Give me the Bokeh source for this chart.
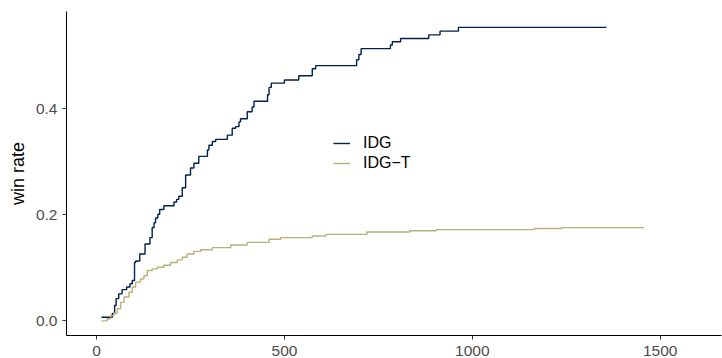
from bokeh.plotting import figure
from bokeh.models import Range1d, FixedTicker, NumeralTickFormatter, Legend, LegendItem
from bokeh.embed import file_html
from bokeh.resources import INLINE

# ---- data ----
idg_x = [13, 42, 48, 52, 59, 68, 80, 89, 95, 101, 104, 115, 129, 142, 148, 153, 157, 163, 168, 179,
         206, 213, 219, 228, 237, 250, 259, 272, 295, 299, 308, 317, 348, 361, 370, 379, 383, 401, 414, 419,
         455, 459, 465, 500, 538, 574, 583, 692, 698, 704, 782, 787, 809, 884, 914, 963, 1357]
idg_y = [0.007, 0.014, 0.029, 0.042, 0.051, 0.059, 0.064, 0.070, 0.076, 0.110, 0.113, 0.126, 0.145, 0.157,
         0.176, 0.185, 0.194, 0.201, 0.210, 0.217, 0.224, 0.229, 0.235, 0.251, 0.275, 0.288, 0.297, 0.310,
         0.322, 0.331, 0.338, 0.342, 0.350, 0.363, 0.366, 0.375, 0.381, 0.394, 0.403, 0.414, 0.426, 0.440,
         0.448, 0.454, 0.462, 0.475, 0.481, 0.492, 0.502, 0.513, 0.520, 0.526, 0.532, 0.539, 0.546, 0.553, 0.553]

idgt_x = [13, 28, 37, 46, 55, 64, 73, 86, 95, 104, 117, 126, 135, 148, 162, 179, 197, 215, 228, 241,
          259, 277, 308, 357, 401, 459, 490, 574, 610, 719, 833, 904, 1164, 1238, 1457]
idgt_y = [0.000, 0.004, 0.010, 0.015, 0.023, 0.035, 0.045, 0.054, 0.064, 0.073, 0.079, 0.085, 0.095, 0.098,
          0.101, 0.105, 0.110, 0.115, 0.120, 0.126, 0.131, 0.134, 0.138, 0.143, 0.148, 0.154, 0.157, 0.160,
          0.163, 0.1675, 0.170, 0.172, 0.174, 0.1757, 0.1757]

series_labels = ["IDG", "IDG\u2212T"]
x_ticks = [0, 500, 1000, 1500]
y_ticks = [0.0, 0.2, 0.4]
y_title = "win rate"

FONT = "Liberation Sans"
C_IDG = "#00204D"
C_IDGT = "#BCAF7A"

p = figure(width=722, height=358, output_backend="svg", toolbar_location=None,
           x_range=Range1d(-80, 1663), y_range=Range1d(-0.0275, 0.583),
           min_border_left=66, min_border_right=1, min_border_top=11, min_border_bottom=21)
p.outline_line_color = None
p.background_fill_color = "white"
p.border_fill_color = "white"
p.grid.visible = False

r1 = p.step(idg_x, idg_y, mode="after", line_color=C_IDG, line_width=1.4)
r2 = p.step(idgt_x, idgt_y, mode="after", line_color=C_IDGT, line_width=1.4)

for ax in (p.xaxis[0], p.yaxis[0]):
    ax.axis_line_color = "black"
    ax.axis_line_width = 1
    ax.major_tick_line_color = "#333333"
    ax.major_tick_line_width = 1
    ax.major_tick_in = 0
    ax.major_tick_out = 4
    ax.minor_tick_line_color = None
    ax.major_label_text_font = FONT
    ax.major_label_text_font_size = "15.5px"
    ax.major_label_text_color = "#4D4D4D"

p.xaxis.ticker = FixedTicker(ticks=x_ticks)
p.yaxis.ticker = FixedTicker(ticks=y_ticks)
p.yaxis.formatter = NumeralTickFormatter(format="0.0")
p.xaxis.major_label_standoff = 6
p.yaxis.major_label_standoff = 5
p.yaxis.axis_label = y_title
p.yaxis.axis_label_text_font = FONT
p.yaxis.axis_label_text_font_size = "18px"
p.yaxis.axis_label_text_font_style = "normal"
p.yaxis.axis_label_text_color = "black"
p.yaxis.axis_label_standoff = 5

legend = Legend(items=[LegendItem(label=series_labels[0], renderers=[r1]),
                       LegendItem(label=series_labels[1], renderers=[r2])],
                location=(267, 163), orientation="vertical",
                glyph_width=17, glyph_height=18, label_height=18, label_standoff=13,
                spacing=2, padding=0, margin=0,
                label_text_font=FONT, label_text_font_size="16px", label_text_color="black",
                border_line_color=None, background_fill_alpha=0)
p.add_layout(legend, "center")

open("out.html", "w").write(file_html(p, INLINE))
